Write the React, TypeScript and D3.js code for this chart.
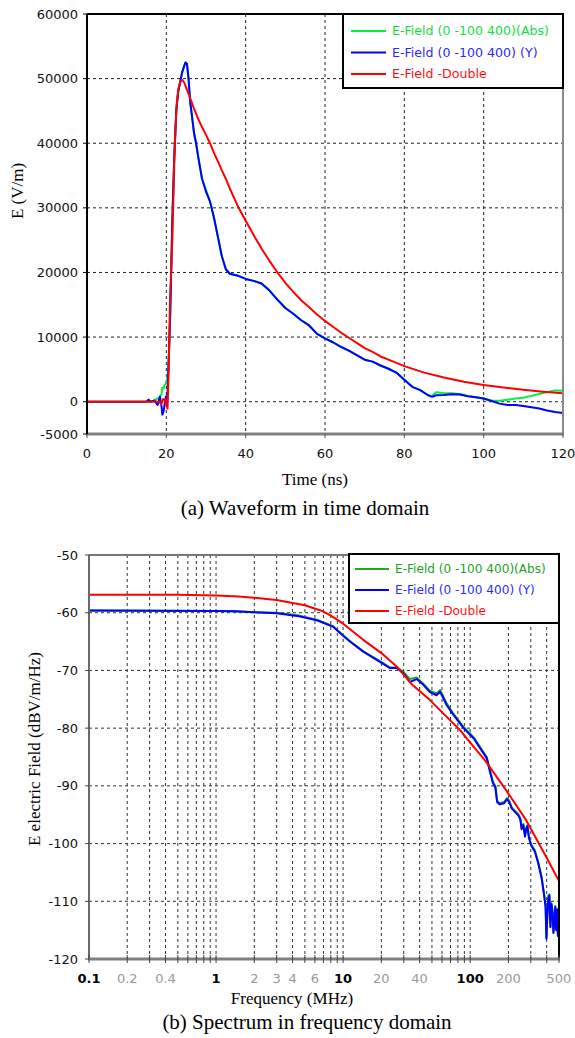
import React from "react";
import * as d3 from "d3";

// ---------- (a) time domain data ----------
const timeTicks = [0, 20, 40, 60, 80, 100, 120];
const fieldTicks = [-5000, 0, 10000, 20000, 30000, 40000, 50000, 60000];

const redT = [0, 18.3, 18.7, 19.2, 19.7, 20.0, 20.3, 20.6, 20.9, 21.5, 22.0, 22.3, 22.6, 23.0, 23.5, 24.0, 24.5, 25.0, 26, 27, 28, 29, 30, 31, 32, 33, 34, 35, 36, 38, 40, 42, 44, 46, 48, 50, 52, 54, 56, 58, 60, 62, 64, 66, 68, 70, 72, 74, 76, 78, 80, 85, 90, 95, 100, 105, 110, 115, 120];
const redE = [0, 0, -400, 400, 300, -300, -1100, 5000, 15000, 25000, 37000, 42000, 46000, 48300, 49500, 49800, 49400, 48600, 47000, 45300, 43800, 42500, 41300, 40000, 38500, 37200, 35800, 34500, 33000, 30300, 28000, 25800, 23700, 21800, 20000, 18400, 17000, 15700, 14600, 13500, 12500, 11600, 10700, 9900, 9100, 8300, 7700, 7000, 6500, 6000, 5500, 4500, 3750, 3100, 2600, 2200, 1850, 1550, 1300];

const blueT = [0, 15, 15.5, 16, 17, 17.8, 18.4, 18.8, 19.0, 19.3, 19.6, 19.9, 20.2, 20.5, 20.8, 21.0, 21.5, 22, 22.5, 23, 24, 24.8, 25.2, 25.6, 26, 27, 27.5, 28, 29, 30, 31, 32, 33, 34, 35, 36, 38, 40, 42, 44, 46, 48, 50, 52, 54, 56, 58, 60, 62, 64, 66, 68, 70, 72, 74, 76, 78, 80, 82, 84, 86, 87, 88, 90, 92, 94, 96, 98, 100, 102, 104, 106, 108, 110, 112, 114, 116, 118, 120];
const blueE = [0, 0, 300, 0, 200, -500, 800, -800, -2000, -1500, -300, 800, -300, 5000, 10000, 14000, 28000, 38000, 45000, 48000, 51000, 52500, 52300, 50000, 46500, 41500, 40000, 38000, 34500, 32500, 31000, 28500, 25500, 22500, 20500, 19800, 19500, 19000, 18700, 18300, 17200, 15800, 14500, 13600, 12600, 11800, 10500, 9800, 9200, 8500, 7900, 7200, 6500, 6200, 5600, 5100, 4500, 3400, 2300, 1800, 1000, 750, 1000, 1050, 1150, 1100, 850, 700, 500, 100, -300, -500, -500, -650, -850, -1050, -1350, -1600, -1750];

const greenT = [0, 15, 15.5, 16, 17, 17.8, 18.4, 18.8, 19.0, 19.3, 19.6, 19.9, 20.2, 20.5, 20.8, 21.0, 21.5, 22, 22.5, 23, 24, 24.8, 25.2, 25.6, 26, 27, 27.5, 28, 29, 30, 31, 32, 33, 34, 35, 36, 38, 40, 42, 44, 46, 48, 50, 52, 54, 56, 58, 60, 62, 64, 66, 68, 70, 72, 74, 76, 78, 80, 82, 84, 86, 87, 88, 90, 92, 94, 96, 98, 100, 102, 104, 106, 108, 110, 112, 114, 116, 118, 120];
const greenE = [0, 0, 300, 0, 200, 500, 800, 1200, 2200, 2000, 2600, 2800, 3500, 5000, 10000, 14000, 28000, 38000, 45000, 48000, 51000, 52500, 52300, 50000, 46500, 41500, 40000, 38000, 34500, 32800, 31000, 28500, 25500, 22500, 20500, 19800, 19500, 19000, 18700, 18300, 17200, 15800, 14500, 13600, 12600, 11800, 10500, 9800, 9200, 8500, 7900, 7200, 6500, 6200, 5600, 5100, 4500, 3400, 2300, 1800, 1000, 900, 1450, 1300, 1300, 1200, 900, 700, 500, 150, 150, 300, 500, 600, 900, 1200, 1500, 1750, 1700];

// ---------- (b) frequency domain data ----------
const freqTickLabels = [0.1, 0.2, 0.4, 1, 2, 3, 4, 6, 10, 20, 40, 100, 200, 500];
const freqGrid = [0.2, 0.3, 0.4, 0.5, 0.6, 0.7, 0.8, 0.9, 1, 2, 3, 4, 5, 6, 7, 8, 9, 10, 20, 30, 40, 50, 60, 70, 80, 90, 100, 200, 300, 400];
const dbTicks = [-120, -110, -100, -90, -80, -70, -60, -50];

const redF = [0.1, 0.5, 1, 1.5, 2, 3, 4, 5, 7, 8, 10, 14.4, 20, 26.5, 35, 48, 65, 83, 100, 130, 191, 275, 396, 500];
const redDb = [-56.9, -56.9, -57.0, -57.2, -57.4, -57.8, -58.3, -58.7, -59.8, -60.5, -61.9, -64.7, -67.0, -69.35, -72.5, -75.1, -78.0, -80.3, -82.5, -85.5, -90.7, -95.9, -102.3, -106.5];

const blueF = [0.1, 1, 1.4, 2, 3, 4.5, 6.2, 8.3, 10, 11.3, 14.4, 19.5, 23.4, 26.5, 29.9, 33.5, 37.9, 42.8, 48, 54.3, 58, 65.3, 73.8, 88.8, 106.7, 120, 135, 143, 151, 158, 163, 170, 185, 195, 203, 212, 225, 239, 248, 254, 262, 270, 276, 282, 290, 300, 323, 343, 365, 383, 392, 398, 404, 412, 420, 428, 436, 445, 452, 460, 467, 475, 484, 490, 496, 500];
const blueDb = [-59.6, -59.7, -59.75, -59.9, -60.1, -60.6, -61.3, -62.4, -64.0, -65.0, -66.75, -68.5, -69.6, -69.6, -70.5, -72.0, -71.5, -72.5, -73.7, -74.3, -73.7, -76.0, -77.7, -80.0, -81.8, -83.5, -85.2, -87.5, -89.5, -90.3, -92.8, -93.2, -93.0, -92.3, -92.8, -93.9, -94.5, -95.1, -95.8, -97.5, -96.8, -98.8, -97.5, -97.0, -99.0, -100.2, -101.4, -103.4, -106.0, -109.2, -111.0, -116.5, -113.0, -109.5, -109.0, -114.5, -110.5, -112.0, -115.5, -113.5, -111.0, -115.0, -111.5, -116.0, -111.5, -114.0];

const greenF = [0.1, 1, 1.4, 2, 3, 4.5, 6.2, 8.3, 10, 11.3, 14.4, 19.5, 23.4, 26.5, 29.9, 33.5, 37.9, 42.8, 48, 54.3, 58, 65.3, 73.8, 88.8, 106.7, 120, 135, 143, 151, 158, 163, 170, 185, 195, 203, 212, 225, 239, 248, 254, 262, 270, 276, 282, 290, 300, 323, 343, 365, 383, 392, 398, 404, 412, 420, 428, 436, 445, 452, 460, 467, 475, 484, 490, 496, 500];
const greenDb = [-59.6, -59.7, -59.75, -59.9, -60.0, -60.5, -61.2, -62.3, -63.9, -64.9, -66.7, -68.4, -69.5, -69.5, -70.3, -71.5, -71.2, -72.3, -73.5, -74.0, -73.4, -75.7, -77.5, -79.8, -81.6, -83.3, -85.0, -87.3, -89.3, -90.1, -92.6, -93.0, -92.8, -92.1, -92.6, -93.7, -94.3, -94.9, -95.6, -97.3, -96.6, -98.6, -97.3, -96.8, -98.8, -100.0, -101.2, -103.2, -105.8, -109.0, -110.8, -116.3, -112.8, -109.0, -108.8, -114.3, -110.3, -111.8, -115.3, -113.3, -110.8, -114.8, -111.3, -115.8, -111.3, -113.8];

const legendLabels = ["E-Field (0 -100 400)(Abs)", "E-Field (0 -100 400) (Y)", "E-Field -Double"];

const SANS = "'DejaVu Sans', sans-serif";
const SERIF = "'Liberation Serif', 'Times New Roman', serif";

export default function App() {
  // ---- top chart scales
  const xT = d3.scaleLinear().domain([0, 120]).range([87, 563]);
  const yT = d3.scaleLinear().domain([-5000, 60000]).range([434, 14]);
  const lineT = (ts: number[], vs: number[]) =>
    d3.line<number>().x((_, i) => xT(ts[i])).y((v) => yT(v))(vs) || "";

  // ---- bottom chart scales
  const xF = d3.scaleLog().domain([0.1, 500]).range([89, 559]);
  const yF = d3.scaleLinear().domain([-120, -50]).range([959, 555]);
  const lineF = (fs: number[], vs: number[]) =>
    d3.line<number>().x((_, i) => xF(fs[i])).y((v) => yF(v))(vs) || "";

  const topColors = ["#00f040", "#0000ff", "#ff0000"];
  const topText = ["#10e040", "#2a2aff", "#ff1010"];
  const botColors = ["#1faa1f", "#0000ff", "#ff0000"];
  const botText = ["#25a025", "#2a2aff", "#ff1010"];

  const x0 = xT.range()[0], x1 = xT.range()[1], y0 = yT.range()[0], y1 = yT.range()[1];
  const fx0 = xF.range()[0], fx1 = xF.range()[1], fy0 = yF.range()[0], fy1 = yF.range()[1];

  const decade = (f: number) => [0.1, 1, 10, 100].includes(f);

  return (
    <svg width={575} height={1038} style={{ position: "absolute", left: 0, top: 0, background: "#fff" }}>
      <rect x={0} y={0} width={575} height={1038} fill="#fff" />
      {/* ================= TOP CHART ================= */}
      <defs>
        <clipPath id="clipT">
          <rect x={x0} y={y1} width={x1 - x0} height={y0 - y1} />
        </clipPath>
        <clipPath id="clipF">
          <rect x={fx0} y={fy1} width={fx1 - fx0} height={fy0 - fy1} />
        </clipPath>
      </defs>
      {timeTicks.filter((t) => t > 0 && t < 120).map((t) => (
        <line key={"gx" + t} x1={xT(t)} x2={xT(t)} y1={y1} y2={y0} stroke="#222" strokeWidth={1} strokeDasharray="3,3" />
      ))}
      {fieldTicks.filter((v) => v > -5000 && v < 60000).map((v) => (
        <line key={"gy" + v} x1={x0} x2={x1} y1={yT(v)} y2={yT(v)} stroke="#222" strokeWidth={1} strokeDasharray="3,3" />
      ))}
      <g clipPath="url(#clipT)" fill="none" strokeWidth={2} strokeLinejoin="round">
        <path d={lineT(greenT, greenE)} stroke={topColors[0]} />
        <path d={lineT(blueT, blueE)} stroke={topColors[1]} />
        <path d={lineT(redT, redE)} stroke={topColors[2]} />
      </g>
      {/* frame */}
      <line x1={x0} x2={x1} y1={y1} y2={y1} stroke="#000" strokeWidth={2} />
      <line x1={x1} x2={x1} y1={y1} y2={y0} stroke="#8a8a8a" strokeWidth={2} />
      <line x1={x0 - 1} x2={x1 + 1} y1={y0} y2={y0} stroke="#808080" strokeWidth={3} />
      <line x1={x0} x2={x0} y1={y1} y2={y0} stroke="#000" strokeWidth={2} />
      {timeTicks.map((t) => (
        <g key={"tx" + t}>
          <line x1={xT(t)} x2={xT(t)} y1={y0} y2={y0 + 4} stroke="#555" strokeWidth={1} />
          <text x={xT(t)} y={453} dy="0.35em" textAnchor="middle" fontFamily={SANS} fontSize={13} fill="#111">{t}</text>
        </g>
      ))}
      {fieldTicks.map((v) => (
        <g key={"ty" + v}>
          <line x1={x0 - 4} x2={x0} y1={yT(v)} y2={yT(v)} stroke="#000" strokeWidth={1} />
          <text x={78} y={yT(v)} dy="0.35em" textAnchor="end" fontFamily={SANS} fontSize={13} fill="#111">{v}</text>
        </g>
      ))}
      <text x={315} y={485} textAnchor="middle" fontFamily={SERIF} fontSize={17} fill="#000">Time (ns)</text>
      <text transform="translate(23,191) rotate(-90)" textAnchor="middle" fontFamily={SERIF} fontSize={17} fill="#000">E (V/m)</text>
      <text x={305} y={515} textAnchor="middle" fontFamily={SERIF} fontSize={21} fill="#000">(a) Waveform in time domain</text>
      {/* legend top */}
      <rect x={343} y={14} width={220} height={74} fill="#fff" stroke="#000" strokeWidth={2} />
      {legendLabels.map((l, i) => (
        <g key={"lt" + i}>
          <line x1={351} x2={386} y1={31 + i * 21.5} y2={31 + i * 21.5} stroke={topColors[i]} strokeWidth={2} />
          <text x={392} y={31 + i * 21.5} dy="0.35em" fontFamily={SANS} fontSize={12.6} fill={topText[i]}>{l}</text>
        </g>
      ))}

      {/* ================= BOTTOM CHART ================= */}
      {freqGrid.map((f) => (
        <line key={"fg" + f} x1={xF(f)} x2={xF(f)} y1={fy1} y2={fy0} stroke="#333" strokeWidth={1} strokeDasharray="3,3" />
      ))}
      {dbTicks.filter((v) => v > -120 && v < -50).map((v) => (
        <line key={"dg" + v} x1={fx0} x2={fx1} y1={yF(v)} y2={yF(v)} stroke="#333" strokeWidth={1} strokeDasharray="3,3" />
      ))}
      <g clipPath="url(#clipF)" fill="none" strokeWidth={2} strokeLinejoin="round">
        <path d={lineF(greenF, greenDb)} stroke={botColors[0]} />
        <path d={lineF(blueF, blueDb)} stroke={botColors[1]} />
        <path d={lineF(redF, redDb)} stroke={botColors[2]} />
      </g>
      <line x1={fx0} x2={fx1} y1={fy1} y2={fy1} stroke="#777" strokeWidth={2} />
      <line x1={fx1} x2={fx1} y1={fy1} y2={fy0} stroke="#000" strokeWidth={2} />
      <line x1={fx0 - 1} x2={fx1 + 1} y1={fy0} y2={fy0} stroke="#808080" strokeWidth={3} />
      <line x1={fx0} x2={fx0} y1={fy1} y2={fy0} stroke="#6a6a6a" strokeWidth={2} />
      {[0.1, ...freqGrid, 500].map((f) => (
        <line key={"ft" + f} x1={xF(f)} x2={xF(f)} y1={fy0 - 4} y2={fy0 + 4} stroke="#444" strokeWidth={1} />
      ))}
      {freqTickLabels.map((f) => (
        <text key={"fl" + f} x={xF(f)} y={978} dy="0.35em" textAnchor="middle" fontFamily={SANS} fontSize={13}
          fill={decade(f) ? "#000" : "#9a9a9a"} fontWeight={decade(f) ? 600 : 400}>{f}</text>
      ))}
      {dbTicks.map((v) => (
        <g key={"dl" + v}>
          <line x1={fx0 - 4} x2={fx0} y1={yF(v)} y2={yF(v)} stroke="#444" strokeWidth={1} />
          <text x={78} y={yF(v)} dy="0.35em" textAnchor="end" fontFamily={SANS} fontSize={13} fill="#111">{v}</text>
        </g>
      ))}
      <text x={292} y={1004} textAnchor="middle" fontFamily={SERIF} fontSize={17} fill="#000">Frequency (MHz)</text>
      <text transform="translate(40,749) rotate(-90)" textAnchor="middle" fontFamily={SERIF} fontSize={17} fill="#000">E electric Field (dBV/m/Hz)</text>
      <text x={307} y={1029} textAnchor="middle" fontFamily={SERIF} fontSize={21} fill="#000">(b) Spectrum in frequency domain</text>
      {/* legend bottom */}
      <rect x={349} y={554} width={210} height={69} fill="#fff" stroke="#000" strokeWidth={2} />
      {legendLabels.map((l, i) => (
        <g key={"lb" + i}>
          <line x1={355} x2={389} y1={569 + i * 21} y2={569 + i * 21} stroke={botColors[i]} strokeWidth={2} />
          <text x={395} y={569 + i * 21} dy="0.35em" fontFamily={SANS} fontSize={12.1} fill={botText[i]}>{l}</text>
        </g>
      ))}
    </svg>
  );
}
